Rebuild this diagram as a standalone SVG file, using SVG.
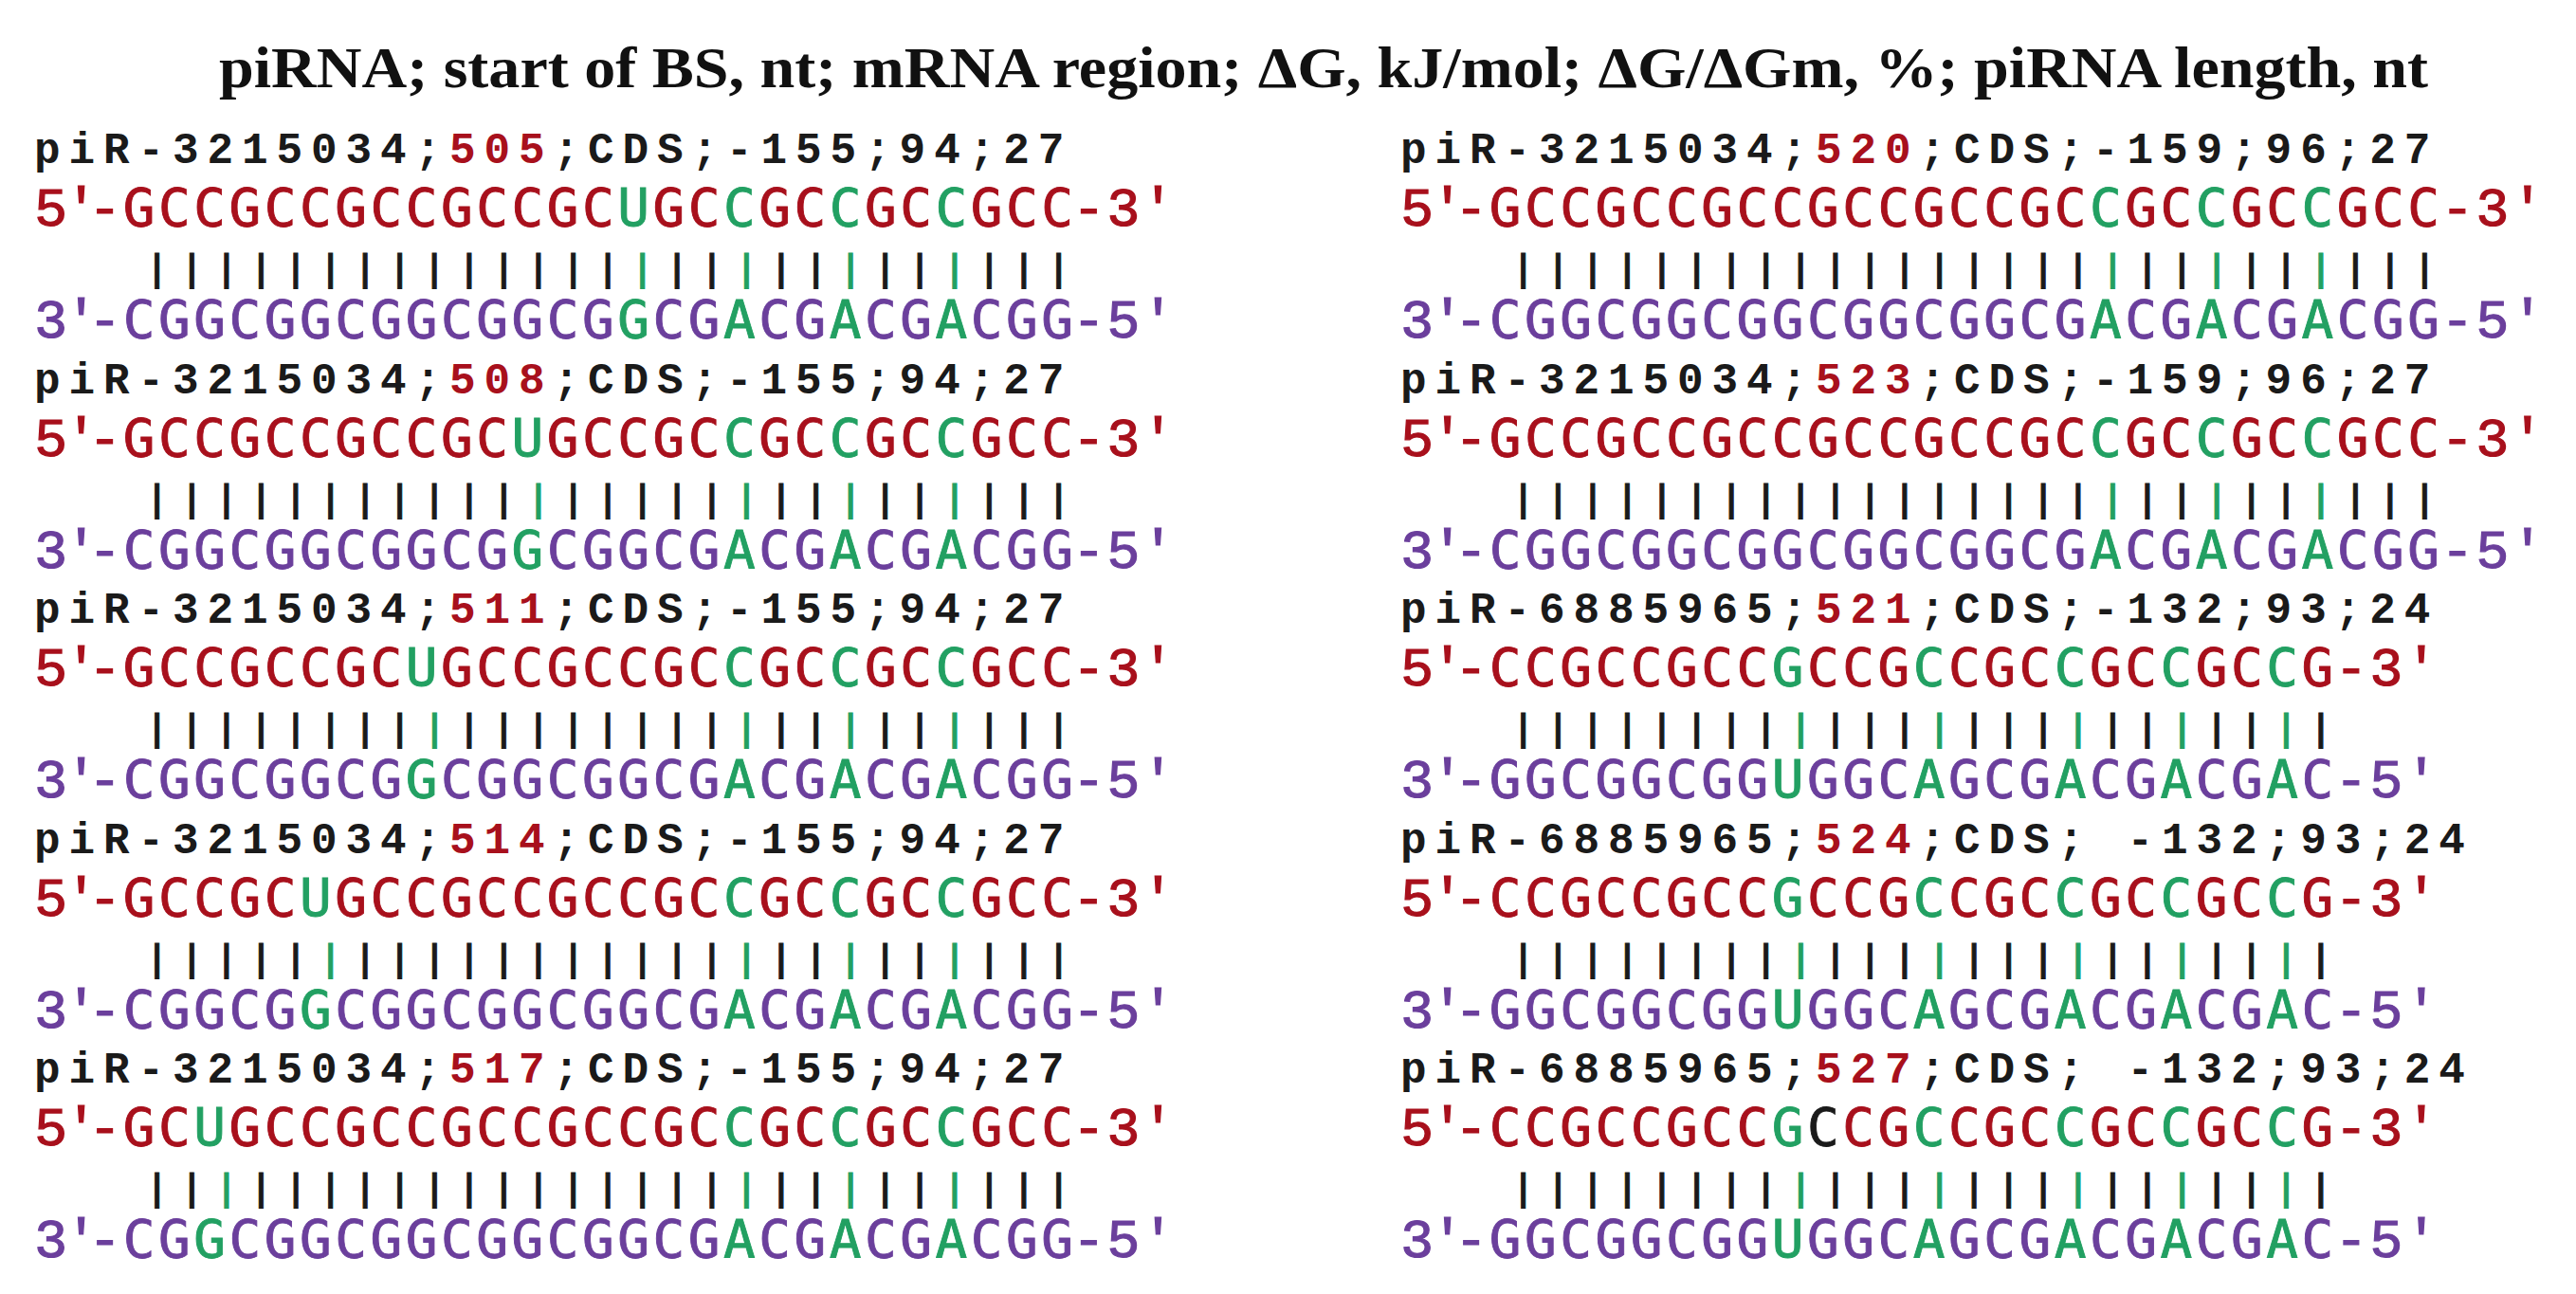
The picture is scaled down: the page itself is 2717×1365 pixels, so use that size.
<svg xmlns="http://www.w3.org/2000/svg" width="2717" height="1365" viewBox="0 0 2717 1365">
<style>
.title{font-family:"Liberation Serif","Times New Roman",serif;font-weight:bold;font-size:62px;fill:#111}
.hd{font-family:"Liberation Mono","Courier New",monospace;font-weight:bold;font-size:46px;letter-spacing:8.9px;fill:#1a1a1a}
.num{fill:#a8101c}
.end{font-family:"Liberation Mono","Courier New",monospace;font-size:58px;text-anchor:middle;stroke-width:1.2px}
.seq{font-family:"DejaVu Sans Mono",monospace;font-size:56px;letter-spacing:3.53px;stroke-width:0.9px}
.bar{font-family:"DejaVu Sans Mono",monospace;font-weight:bold;font-size:37px;letter-spacing:14.29px;fill:#1a1a1a;stroke:#1a1a1a;stroke-width:1px}
.r{fill:#a8101c;stroke:#a8101c}
.p{fill:#6b3f9c;stroke:#6b3f9c}
.g{fill:#22a062;stroke:#22a062}
.k{fill:#1a1a1a;stroke:#1a1a1a}
</style>
<rect width="2717" height="1365" fill="#ffffff"/>
<text class="title" x="231" y="92" textLength="2330" lengthAdjust="spacingAndGlyphs">piRNA; start of BS, nt; mRNA region; ΔG, kJ/mol; ΔG/ΔGm, %; piRNA length, nt</text>

<g id="connectors"></g>

<!-- Left column -->
<g id="p505" transform="translate(0,0)">
<text class="hd" x="36" y="172">piR-3215034;<tspan class="num">505</tspan>;CDS;-155;94;27</text>
<text class="end r" x="53.7 85.7 110.7" y="238">5'-</text>
<text class="seq r" x="129.8" y="238">GCCGCCGCCGCCGC<tspan class="g">U</tspan>GC<tspan class="g">C</tspan>GC<tspan class="g">C</tspan>GC<tspan class="g">C</tspan>GCC</text>
<text class="end r" x="1148.4 1184.8 1221.4" y="238">-3'</text>
<text class="bar" x="154.6" y="296.3">||||||||||||||<tspan class="g">|</tspan>||<tspan class="g">|</tspan>||<tspan class="g">|</tspan>||<tspan class="g">|</tspan>|||</text>
<text class="end p" x="53.7 85.7 110.7" y="356">3'-</text>
<text class="seq p" x="129.8" y="356">CGGCGGCGGCGGCG<tspan class="g">G</tspan>CG<tspan class="g">A</tspan>CG<tspan class="g">A</tspan>CG<tspan class="g">A</tspan>CGG</text>
<text class="end p" x="1148.4 1184.8 1221.4" y="356">-5'</text>
</g>

<g id="p508" transform="translate(0,242.5)">
<text class="hd" x="36" y="172">piR-3215034;<tspan class="num">508</tspan>;CDS;-155;94;27</text>
<text class="end r" x="53.7 85.7 110.7" y="238">5'-</text>
<text class="seq r" x="129.8" y="238">GCCGCCGCCGC<tspan class="g">U</tspan>GCCGC<tspan class="g">C</tspan>GC<tspan class="g">C</tspan>GC<tspan class="g">C</tspan>GCC</text>
<text class="end r" x="1148.4 1184.8 1221.4" y="238">-3'</text>
<text class="bar" x="154.6" y="296.3">|||||||||||<tspan class="g">|</tspan>|||||<tspan class="g">|</tspan>||<tspan class="g">|</tspan>||<tspan class="g">|</tspan>|||</text>
<text class="end p" x="53.7 85.7 110.7" y="356">3'-</text>
<text class="seq p" x="129.8" y="356">CGGCGGCGGCG<tspan class="g">G</tspan>CGGCG<tspan class="g">A</tspan>CG<tspan class="g">A</tspan>CG<tspan class="g">A</tspan>CGG</text>
<text class="end p" x="1148.4 1184.8 1221.4" y="356">-5'</text>
</g>

<g id="p511" transform="translate(0,485)">
<text class="hd" x="36" y="172">piR-3215034;<tspan class="num">511</tspan>;CDS;-155;94;27</text>
<text class="end r" x="53.7 85.7 110.7" y="238">5'-</text>
<text class="seq r" x="129.8" y="238">GCCGCCGC<tspan class="g">U</tspan>GCCGCCGC<tspan class="g">C</tspan>GC<tspan class="g">C</tspan>GC<tspan class="g">C</tspan>GCC</text>
<text class="end r" x="1148.4 1184.8 1221.4" y="238">-3'</text>
<text class="bar" x="154.6" y="296.3">||||||||<tspan class="g">|</tspan>||||||||<tspan class="g">|</tspan>||<tspan class="g">|</tspan>||<tspan class="g">|</tspan>|||</text>
<text class="end p" x="53.7 85.7 110.7" y="356">3'-</text>
<text class="seq p" x="129.8" y="356">CGGCGGCG<tspan class="g">G</tspan>CGGCGGCG<tspan class="g">A</tspan>CG<tspan class="g">A</tspan>CG<tspan class="g">A</tspan>CGG</text>
<text class="end p" x="1148.4 1184.8 1221.4" y="356">-5'</text>
</g>

<g id="p514" transform="translate(0,727.5)">
<text class="hd" x="36" y="172">piR-3215034;<tspan class="num">514</tspan>;CDS;-155;94;27</text>
<text class="end r" x="53.7 85.7 110.7" y="238">5'-</text>
<text class="seq r" x="129.8" y="238">GCCGC<tspan class="g">U</tspan>GCCGCCGCCGC<tspan class="g">C</tspan>GC<tspan class="g">C</tspan>GC<tspan class="g">C</tspan>GCC</text>
<text class="end r" x="1148.4 1184.8 1221.4" y="238">-3'</text>
<text class="bar" x="154.6" y="296.3">|||||<tspan class="g">|</tspan>|||||||||||<tspan class="g">|</tspan>||<tspan class="g">|</tspan>||<tspan class="g">|</tspan>|||</text>
<text class="end p" x="53.7 85.7 110.7" y="356">3'-</text>
<text class="seq p" x="129.8" y="356">CGGCG<tspan class="g">G</tspan>CGGCGGCGGCG<tspan class="g">A</tspan>CG<tspan class="g">A</tspan>CG<tspan class="g">A</tspan>CGG</text>
<text class="end p" x="1148.4 1184.8 1221.4" y="356">-5'</text>
</g>

<g id="p517" transform="translate(0,970)">
<text class="hd" x="36" y="172">piR-3215034;<tspan class="num">517</tspan>;CDS;-155;94;27</text>
<text class="end r" x="53.7 85.7 110.7" y="238">5'-</text>
<text class="seq r" x="129.8" y="238">GC<tspan class="g">U</tspan>GCCGCCGCCGCCGC<tspan class="g">C</tspan>GC<tspan class="g">C</tspan>GC<tspan class="g">C</tspan>GCC</text>
<text class="end r" x="1148.4 1184.8 1221.4" y="238">-3'</text>
<text class="bar" x="154.6" y="296.3">||<tspan class="g">|</tspan>||||||||||||||<tspan class="g">|</tspan>||<tspan class="g">|</tspan>||<tspan class="g">|</tspan>|||</text>
<text class="end p" x="53.7 85.7 110.7" y="356">3'-</text>
<text class="seq p" x="129.8" y="356">CG<tspan class="g">G</tspan>CGGCGGCGGCGGCG<tspan class="g">A</tspan>CG<tspan class="g">A</tspan>CG<tspan class="g">A</tspan>CGG</text>
<text class="end p" x="1148.4 1184.8 1221.4" y="356">-5'</text>
</g>

<!-- Right column -->
<g id="p520" transform="translate(1441,0)">
<text class="hd" x="36" y="172">piR-3215034;<tspan class="num">520</tspan>;CDS;-159;96;27</text>
<text class="end r" x="53.7 85.7 110.7" y="238">5'-</text>
<text class="seq r" x="129.8" y="238">GCCGCCGCCGCCGCCGC<tspan class="g">C</tspan>GC<tspan class="g">C</tspan>GC<tspan class="g">C</tspan>GCC</text>
<text class="end r" x="1151 1188 1225" y="238">-3'</text>
<text class="bar" x="154.6" y="296.3">|||||||||||||||||<tspan class="g">|</tspan>||<tspan class="g">|</tspan>||<tspan class="g">|</tspan>|||</text>
<text class="end p" x="53.7 85.7 110.7" y="356">3'-</text>
<text class="seq p" x="129.8" y="356">CGGCGGCGGCGGCGGCG<tspan class="g">A</tspan>CG<tspan class="g">A</tspan>CG<tspan class="g">A</tspan>CGG</text>
<text class="end p" x="1151 1188 1225" y="356">-5'</text>
</g>

<g id="p523" transform="translate(1441,242.5)">
<text class="hd" x="36" y="172">piR-3215034;<tspan class="num">523</tspan>;CDS;-159;96;27</text>
<text class="end r" x="53.7 85.7 110.7" y="238">5'-</text>
<text class="seq r" x="129.8" y="238">GCCGCCGCCGCCGCCGC<tspan class="g">C</tspan>GC<tspan class="g">C</tspan>GC<tspan class="g">C</tspan>GCC</text>
<text class="end r" x="1151 1188 1225" y="238">-3'</text>
<text class="bar" x="154.6" y="296.3">|||||||||||||||||<tspan class="g">|</tspan>||<tspan class="g">|</tspan>||<tspan class="g">|</tspan>|||</text>
<text class="end p" x="53.7 85.7 110.7" y="356">3'-</text>
<text class="seq p" x="129.8" y="356">CGGCGGCGGCGGCGGCG<tspan class="g">A</tspan>CG<tspan class="g">A</tspan>CG<tspan class="g">A</tspan>CGG</text>
<text class="end p" x="1151 1188 1225" y="356">-5'</text>
</g>

<g id="p521" transform="translate(1441,485)">
<text class="hd" x="36" y="172">piR-6885965;<tspan class="num">521</tspan>;CDS;-132;93;24</text>
<text class="end r" x="53.7 85.7 110.7" y="238">5'-</text>
<text class="seq r" x="129.8" y="238">CCGCCGCC<tspan class="g">G</tspan>CCG<tspan class="g">C</tspan>CGC<tspan class="g">C</tspan>GC<tspan class="g">C</tspan>GC<tspan class="g">C</tspan>G</text>
<text class="end r" x="1039 1076 1113" y="238">-3'</text>
<text class="bar" x="154.6" y="296.3">||||||||<tspan class="g">|</tspan>|||<tspan class="g">|</tspan>|||<tspan class="g">|</tspan>||<tspan class="g">|</tspan>||<tspan class="g">|</tspan>|</text>
<text class="end p" x="53.7 85.7 110.7" y="356">3'-</text>
<text class="seq p" x="129.8" y="356">GGCGGCGG<tspan class="g">U</tspan>GGC<tspan class="g">A</tspan>GCG<tspan class="g">A</tspan>CG<tspan class="g">A</tspan>CG<tspan class="g">A</tspan>C</text>
<text class="end p" x="1039 1076 1113" y="356">-5'</text>
</g>

<g id="p524" transform="translate(1441,727.5)">
<text class="hd" x="36" y="172">piR-6885965;<tspan class="num">524</tspan>;CDS; -132;93;24</text>
<text class="end r" x="53.7 85.7 110.7" y="238">5'-</text>
<text class="seq r" x="129.8" y="238">CCGCCGCC<tspan class="g">G</tspan>CCG<tspan class="g">C</tspan>CGC<tspan class="g">C</tspan>GC<tspan class="g">C</tspan>GC<tspan class="g">C</tspan>G</text>
<text class="end r" x="1039 1076 1113" y="238">-3'</text>
<text class="bar" x="154.6" y="296.3">||||||||<tspan class="g">|</tspan>|||<tspan class="g">|</tspan>|||<tspan class="g">|</tspan>||<tspan class="g">|</tspan>||<tspan class="g">|</tspan>|</text>
<text class="end p" x="53.7 85.7 110.7" y="356">3'-</text>
<text class="seq p" x="129.8" y="356">GGCGGCGG<tspan class="g">U</tspan>GGC<tspan class="g">A</tspan>GCG<tspan class="g">A</tspan>CG<tspan class="g">A</tspan>CG<tspan class="g">A</tspan>C</text>
<text class="end p" x="1039 1076 1113" y="356">-5'</text>
</g>

<g id="p527" transform="translate(1441,970)">
<text class="hd" x="36" y="172">piR-6885965;<tspan class="num">527</tspan>;CDS; -132;93;24</text>
<text class="end r" x="53.7 85.7 110.7" y="238">5'-</text>
<text class="seq r" x="129.8" y="238">CCGCCGCC<tspan class="g">G</tspan><tspan class="k">C</tspan>CG<tspan class="g">C</tspan>CGC<tspan class="g">C</tspan>GC<tspan class="g">C</tspan>GC<tspan class="g">C</tspan>G</text>
<text class="end r" x="1039 1076 1113" y="238">-3'</text>
<text class="bar" x="154.6" y="296.3">||||||||<tspan class="g">|</tspan>|||<tspan class="g">|</tspan>|||<tspan class="g">|</tspan>||<tspan class="g">|</tspan>||<tspan class="g">|</tspan>|</text>
<text class="end p" x="53.7 85.7 110.7" y="356">3'-</text>
<text class="seq p" x="129.8" y="356">GGCGGCGG<tspan class="g">U</tspan>GGC<tspan class="g">A</tspan>GCG<tspan class="g">A</tspan>CG<tspan class="g">A</tspan>CG<tspan class="g">A</tspan>C</text>
<text class="end p" x="1039 1076 1113" y="356">-5'</text>
</g>
</svg>
